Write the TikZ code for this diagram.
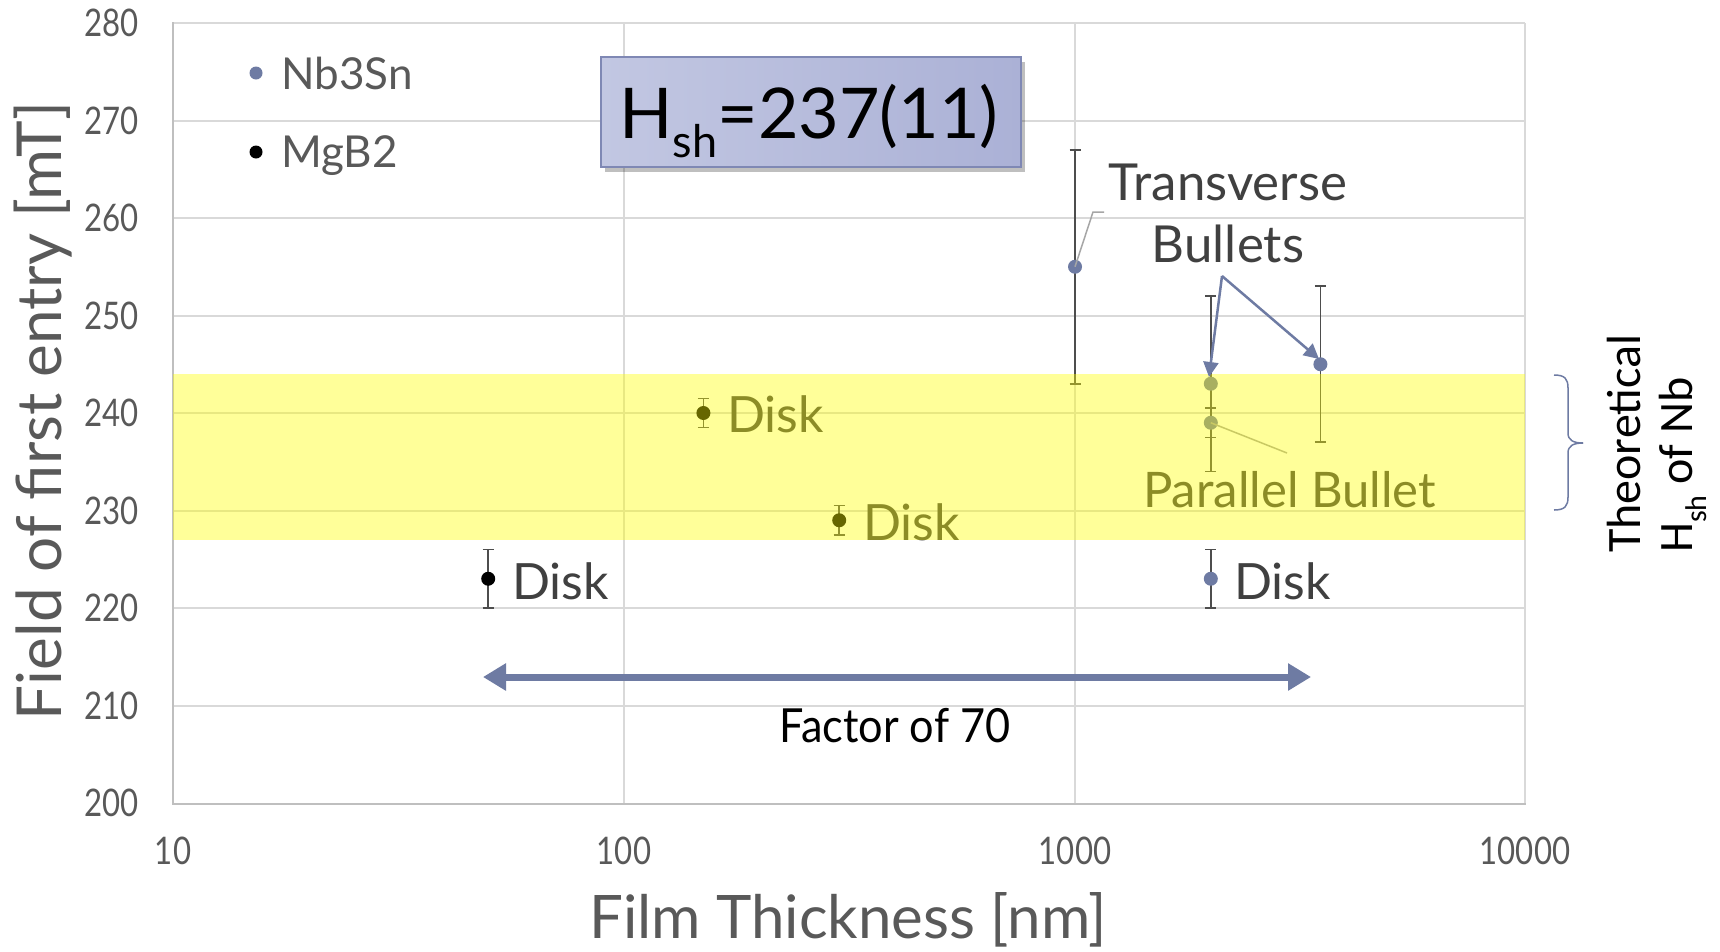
\documentclass[tikz,border=0pt]{standalone}
\usepackage{fontspec}
\setmainfont{Lato}
\newfontfamily\condf[FakeStretch=0.82]{Lato}
\newfontfamily\factf[FakeStretch=0.92]{Lato}
\newfontfamily\calib{Carlito}
\usetikzlibrary{arrows.meta}
\definecolor{nbblue}{HTML}{6E7BA3}
\definecolor{gridc}{HTML}{D9D9D9}
\definecolor{axisc}{HTML}{BFBFBF}
\definecolor{labgray}{HTML}{595959}
\definecolor{txtdark}{HTML}{404040}
\definecolor{errc}{HTML}{4D4D4D}
\definecolor{bandyel}{HTML}{FFFF00}
\definecolor{boxL}{HTML}{C2C7E2}
\definecolor{boxR}{HTML}{ABB1D6}
\definecolor{boxborder}{HTML}{7F88B4}
\definecolor{leadc}{HTML}{A6A6A6}
\newcommand{\fsz}[1]{\fontsize{#1}{#1}\selectfont}
\newcommand{\errbar}[3]{\draw[errline] (#1,#2) -- (#1,#3) ({#1-5.5},#2) -- ({#1+5.5},#2) ({#1-5.5},#3) -- ({#1+5.5},#3);}
\begin{document}
\begin{tikzpicture}[x=1pt,y=-1pt,
  gridline/.style={draw=gridc, line width=2pt},
  axisline/.style={draw=axisc, line width=2pt},
  errline/.style={draw=errc, line width=1.6pt},
  nbpt/.style={circle, fill=nbblue, inner sep=0pt, minimum size=14pt},
  mgpt/.style={circle, fill=black, inner sep=0pt, minimum size=14pt},
  ylab/.style={inner sep=0pt, anchor=east, text=labgray, font=\condf\fsz{38}},
  xlab/.style={inner sep=0pt, anchor=north, text=labgray, font=\condf\fsz{38}},
  disklab/.style={inner sep=0pt, anchor=base west, text=txtdark, font=\fsz{50}},
  annot/.style={inner sep=0pt, anchor=base, text=txtdark, font=\fsz{51}},
  legtxt/.style={inner sep=0pt, anchor=base west, text=labgray, font=\fsz{44}},
  leader/.style={draw=leadc, line width=1.5pt},
  tbarrow/.style={draw=nbblue, line width=2.5pt},
  factorarrow/.style={draw=nbblue, line width=7pt, {Triangle[length=23pt,width=26pt]}-{Triangle[length=23pt,width=26pt]}},
  hbox/.style={draw=boxborder, line width=2pt, left color=boxL, right color=boxR, minimum width=420pt, minimum height=110pt, inner sep=0pt},
  theo/.style={inner sep=0pt, rotate=90, anchor=base west, text=black, font=\calib\fsz{48}}
]
\useasboundingbox[fill=white] (0,0) rectangle (1720,951);

% grid
\foreach \yy in {23,120.5,218,315.5,413,510.5,608,705.5}
  \draw[gridline] (173,\yy) -- (1525,\yy);
\foreach \xx in {624,1075,1525}
  \draw[gridline] (\xx,23) -- (\xx,803);
\draw[axisline] (173,22) -- (173,804) -- (1526,804);

% tick labels
\node[ylab] (y280) at (139,23) {280};
\node[ylab] (y270) at (139,120.5) {270};
\node[ylab] (y260) at (139,218) {260};
\node[ylab] (y250) at (139,315.5) {250};
\node[ylab] (y240) at (139,413) {240};
\node[ylab] (y230) at (139,510.5) {230};
\node[ylab] (y220) at (139,608) {220};
\node[ylab] (y210) at (139,705.5) {210};
\node[ylab] (y200) at (139,803) {200};
\node[xlab] (x10) at (173,837) {10};
\node[xlab] (x100) at (624,837) {100};
\node[xlab] (x1000) at (1075,837) {1000};
\node[xlab] (x10000) at (1525,837) {10000};

% axis titles
\node[inner sep=0pt, anchor=base, text=labgray, font=\fsz{60}] (xtitle) at (848,938) {Film Thickness [nm]};
\node[inner sep=0pt, anchor=base, rotate=90, text=labgray, font=\fsz{62}] (ytitle) at (61,411) {Field of first entry [mT]};

% error bars
\errbar{1075}{383.75}{149.75}
\errbar{1210.8}{471.5}{296}
\errbar{1210.8}{437.4}{408.1}
\errbar{1320.4}{442.25}{286.25}
\errbar{1210.8}{608}{549.5}
\errbar{703.4}{427.6}{398.4}
\errbar{839.2}{534.9}{505.6}
\errbar{488.2}{608}{549.5}

% leader line ends
\coordinate (tl1) at (1093,212);
\coordinate (tl2) at (1104,212);
\coordinate (pl1) at (1287,453);

% points
\node[nbpt] (t1000) at (1075,266.75) {};
\node[nbpt] (t2000) at (1210.8,383.75) {};
\node[nbpt] (p2000) at (1210.8,422.75) {};
\node[nbpt] (t3500) at (1320.4,364.25) {};
\node[nbpt] (d2000) at (1210.8,578.75) {};
\node[mgpt] (d150) at (703.4,413) {};
\node[mgpt] (d300) at (839.2,520.25) {};
\node[mgpt] (d50) at (488.2,578.75) {};
\draw[leader] (t1000.center) -- (tl1) -- (tl2);
\draw[leader] (p2000.center) -- (pl1);

% data labels
\node[disklab] (l150) at (727,432) {Disk};
\node[disklab] (l300) at (863,540) {Disk};
\node[disklab] (l50) at (512,599) {Disk};
\node[disklab] (l2000) at (1234,599) {Disk};
\node[inner sep=0pt, anchor=base west, text=txtdark, font=\fsz{49}] (par) at (1143,507) {Parallel Bullet};

% yellow band
\fill[bandyel, opacity=0.4] (173,374) rectangle (1525,540);

% transverse label and arrows
\node[annot] (tr1) at (1228,200) {Transverse};
\node[annot] (tr2) at (1228,262) {Bullets};
\coordinate (tb) at (1222,276);
\coordinate (tipA) at (1209,377);
\coordinate (tipB) at (1319,359);
\draw[tbarrow, -{Triangle[length=15pt,width=15pt]}] (tb) -- (tipA);
\draw[tbarrow, -{Triangle[length=15pt,width=15pt]}] (tb) -- (tipB);

% legend
\node[nbpt, minimum size=13pt] (leg1) at (256,73) {};
\node[legtxt] (leg1t) at (281,89) {Nb3Sn};
\node[mgpt, minimum size=13pt] (leg2) at (256,152) {};
\node[legtxt] (leg2t) at (281,167) {MgB2};

% Hsh box
\fill[black, opacity=0.25] (605,62) rectangle (1025,172);
\node[hbox] (hsh) at (811,112) {};
\node[inner sep=0pt, anchor=base, text=black, font=\fsz{70}] (hshtxt) at (809,138) {H\raisebox{-0.28em}{\fsz{45}sh}=237(11)};

% factor of 70
\coordinate (fl) at (483,677);
\coordinate (fr) at (1311,677);
\draw[factorarrow] (fl) -- (fr);
\node[inner sep=0pt, anchor=base, text=black, font=\factf\fsz{47}] (factor) at (895,742) {Factor of 70};

% brace and theoretical label
\draw[draw=nbblue, line width=1.5pt] (1554,375) .. controls (1565,375) and (1568,379) .. (1568,388) -- (1568,433) .. controls (1568,440) and (1573,443) .. (1583,443);
\draw[draw=nbblue, line width=1.5pt] (1583,443) .. controls (1573,443) and (1568,446) .. (1568,453) -- (1568,497) .. controls (1568,506) and (1565,510) .. (1554,510);
\node[theo] (theo1) at (1640,553) {Theoretical};
\node[theo] (theo2) at (1692,553) {H\raisebox{-0.3em}{\fsz{30}sh} of Nb};
\end{tikzpicture}
\end{document}
